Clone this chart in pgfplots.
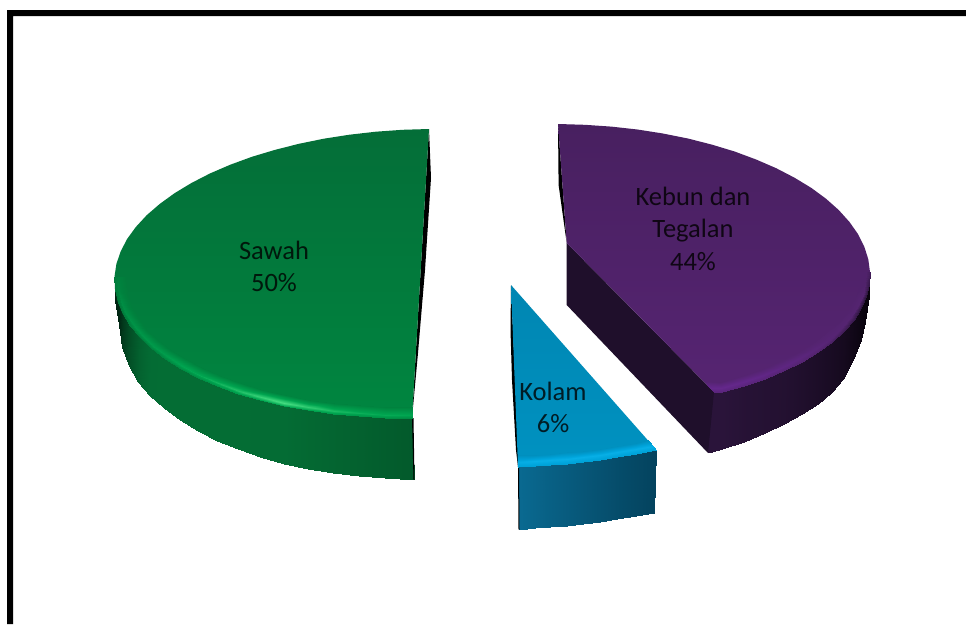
\documentclass[border=0pt]{standalone}
\usepackage{fontspec}
\setmainfont{Carlito}
\usepackage{pgfplots}
\pgfplotsset{compat=1.18}
% Colour ramps for the slices: 0 deep shadow, 1 wall, 2 top face, 3-4 rim highlight
\pgfplotsset{
  colormap={greenramp}{rgb255=(1,36,18) rgb255=(4,108,52) rgb255=(0,130,62) rgb255=(0,165,80) rgb255=(70,222,130)},
  colormap={purpleramp}{rgb255=(8,3,12) rgb255=(42,20,58) rgb255=(84,36,112) rgb255=(97,38,135) rgb255=(110,45,150)},
  colormap={blueramp}{rgb255=(3,60,85) rgb255=(10,108,148) rgb255=(0,143,190) rgb255=(0,165,220) rgb255=(20,190,245)},
}
\newcommand{\lbl}[3]{\node[anchor=base,font=\fontsize{26.5}{30}\selectfont,text=black,text opacity=0.8,inner sep=0pt] at (axis cs:#1,#2) {#3};}
\begin{document}
\begin{tikzpicture}
\useasboundingbox (0,0) rectangle (966pt,624pt);
\begin{axis}[
  at={(0,0)}, anchor=south west,
  scale only axis, width=966pt, height=624pt,
  xmin=0, xmax=966, ymin=0, ymax=624, y dir=reverse,
  hide axis, point meta min=0, point meta max=4,
]
% Outer frame: left and top bars
\addplot[draw=none, fill=black] coordinates {(7,10) (966,10) (966,16) (13,16) (13,624) (7,624)} -- cycle;

% ---- Sawah 50% ----
\addplot[surf, shader=interp, point meta=explicit, mesh/rows=2, mesh/cols=18, colormap name=greenramp] table[x=x,y=y,meta=m] {
x y m
115 289.1 0
117.7 301.6 0.05
122.7 313.8 0.3
130.1 325.7 0.6
139.6 337.3 0.85
151.3 348.4 1.0
164.9 358.9 1.05
180.6 368.7 1.05
198.1 377.8 1.05
217.3 386.1 1.05
238 393.6 1.05
260.1 400.1 1.0
283.5 405.8 1.0
307.8 410.3 0.95
333.1 413.9 0.9
359 416.3 0.85
385.3 417.7 0.8
412 418 0.75
115.5 300 0
118.5 325 0.05
122.5 347 0.3
129 366 0.6
138 382 0.85
150 396 1.0
164 408 1.05
180 420 1.05
198 431 1.05
217 441 1.05
238 449 1.05
260 457 1.0
284 464 1.0
308 469 0.95
333 473 0.9
359 476 0.85
385 478 0.8
414 479.5 0.75
};
\addplot[draw=none, fill=black] coordinates {(429,129) (431,178) (425,270) (418,353) (412,418)} -- cycle;
\addplot[draw=none, fill=black] coordinates {(412,418) (413.5,479.5) (414.5,479.5) (413.5,418)} -- cycle;
\addplot[draw=none, top color={rgb,255:red,4;green,110;blue,56}, bottom color={rgb,255:red,0;green,134;blue,64}] coordinates {
(429,129) (402.3,129.8) (375.8,131.7) (349.5,134.7) (323.8,138.7) (298.9,143.8) (274.9,149.9) (251.9,156.8) (230.3,164.7) (210.1,173.4) (191.6,182.9) (174.7,193.1) (159.8,203.9) (146.8,215.1) (135.9,226.9) (127.1,239) (120.7,251.4) (116.4,263.9) (114.5,276.5)
(115,289.1) (117.7,301.6) (122.7,313.8) (130.1,325.7) (139.6,337.3) (151.3,348.4) (164.9,358.9) (180.6,368.7) (198.1,377.8) (217.3,386.1) (238,393.6) (260.1,400.1) (283.5,405.8) (307.8,410.3) (333.1,413.9) (359,416.3) (385.3,417.7) (412,418)
} -- cycle;
% Rim highlight of the Sawah slice
\addplot[surf, shader=interp, point meta=explicit, mesh/rows=3, mesh/cols=19, colormap name=greenramp] table[x=x,y=y,meta=m] {
x y m
125.5 276.5 1.75
125.8 287.2 1.75
128 297.8 1.8
132.3 308.4 1.8
138.8 319 1.85
147.4 329.6 1.85
158.2 339.9 1.9
171.1 349.8 1.9
186 359.1 1.95
202.8 367.9 1.95
221.4 375.9 2
241.4 383.2 2
263 389.5 2
285.8 395 2
309.7 399.5 2
334.4 403 2
359.9 405.3 2
385.7 406.7 2
412.6 407 2
117.5 276.5 2.0
118 288.6 2.1
120.5 300.5 2.3
125.3 312.3 2.4
132.5 323.9 2.5
141.7 335.2 2.6
153.2 346.1 2.7
166.6 356.4 2.8
182.1 366.1 3.0
199.4 375.1 3.1
218.4 383.3 3.3
238.9 390.7 3.5
260.9 397.2 3.8
284.1 402.9 4
308.3 407.3 3.7
333.5 410.9 3.4
359.2 413.3 3.2
385.4 414.7 3.1
412.2 415 3
114.5 276.5 1.7
115 289.1 1.7
117.7 301.6 1.6
122.7 313.8 1.7
130.1 325.7 1.8
139.6 337.3 1.9
151.3 348.4 2
164.9 358.9 2.1
180.6 368.7 2.2
198.1 377.8 2.3
217.3 386.1 2.5
238 393.6 2.7
260.1 400.1 2.9
283.5 405.8 3
307.8 410.3 2.9
333.1 413.9 2.7
359 416.3 2.5
385.3 417.7 2.4
412 418 2.3
};

% ---- Kebun dan Tegalan 44% ----
\addplot[draw=none, fill=black] coordinates {(558,124) (558.6,185) (566.7,243) (562.4,184)} -- cycle;
\addplot[surf, shader=interp, point meta=explicit, mesh/rows=2, mesh/cols=13, colormap name=purpleramp] table[x=x,y=y,meta=m] {
x y m
869.3 284.2 0.02
866.3 296.3 0.05
861.2 308.1 0.12
853.6 319.8 0.25
843.8 331 0.4
832 341.7 0.5
818.1 351.9 0.6
802.3 361.5 0.7
784.6 370.4 0.8
765.3 378.5 0.85
744.4 385.9 0.9
722.2 391.5 1
710 391 1
869 296 0.02
865 322 0.05
861 340 0.12
853 360 0.25
843 379 0.4
832 392 0.5
818 404 0.6
802 414 0.7
784 424 0.8
765 433 0.85
744 442 0.9
722 449 1
707.5 452.6 1
};
\addplot[draw=none, fill={rgb,255:red,31;green,15;blue,43}] coordinates {(566.7,243) (714,392) (708,453) (566.7,305)} -- cycle;
\addplot[draw=none, top color={rgb,255:red,72;green,32;blue,96}, bottom color={rgb,255:red,86;green,36;blue,114}] coordinates {
(558,124) (584.7,124.8) (611.2,126.6) (637.4,129.5) (663,133.5) (687.9,138.5) (711.8,144.6) (734.6,151.5) (756.1,159.5) (776.2,168.2) (794.5,177.7) (811.3,187.9) (826,198.7) (838.8,210.1) (849.5,222) (858,234.1) (864.3,246.7) (868.3,259.3) (870,272)
(869.3,284.2) (866.3,296.3) (861.2,308.1) (853.6,319.8) (843.8,331) (832,341.7) (818.1,351.9) (802.3,361.5) (784.6,370.4) (765.3,378.5) (744.4,385.9) (722.2,391.5) (714,392) (566.7,243)
} -- cycle;
% Rim highlight of the Kebun dan Tegalan slice
\addplot[surf, shader=interp, point meta=explicit, mesh/rows=3, mesh/cols=14, colormap name=purpleramp] table[x=x,y=y,meta=m] {
x y m
860 272 1.9
859.5 282.3 1.9
857 292.7 1.9
852.6 303.1 1.95
845.8 313.6 1.95
836.8 323.9 1.95
825.8 333.9 2
812.6 343.5 2
797.5 352.7 2
780.4 361.3 2
761.7 369.2 2
741.4 376.4 2
719.7 382.3 2
704 380.5 2
866 272 1.9
865.4 283.4 1.9
862.5 294.8 2
857.7 306.1 2
850.5 317.3 2.05
841 328.2 2.1
829.5 338.6 2.2
815.9 348.5 2.4
800.4 358 2.6
782.9 366.8 2.8
763.8 374.8 3
743.2 382.1 3.2
721.2 387.6 3.3
710 388 3.3
870 272 1.6
869.3 284.2 1.3
866.3 296.3 1.1
861.2 308.1 1.1
853.6 319.8 1.3
843.8 331 1.5
832 341.7 1.7
818.1 351.9 1.9
802.3 361.5 2
784.6 370.4 2.1
765.3 378.5 2.3
744.4 385.9 2.4
722.2 391.5 2.5
714 392 2.5
};

% ---- Kolam 6% ----
\addplot[surf, shader=interp, point meta=explicit, mesh/rows=2, mesh/cols=9, colormap name=blueramp] table[x=x,y=y,meta=m] {
x y m
518 467 0.95
535 466.3 0.85
550 465 0.75
567 463.6 0.65
583 462 0.55
600 459.8 0.45
617 457 0.35
636 453.5 0.25
656 449.5 0.15
518.5 529.5 0.95
535 528.4 0.85
550 527 0.75
567 525.6 0.65
583 524 0.55
600 521.6 0.45
617 519 0.35
636 516 0.25
653.5 512.7 0.15
};
\addplot[draw=none, fill=black] coordinates {(511,285) (510.5,330) (512,380) (516,450) (518,467) (518.5,529.5) (519.5,529.5) (519,467)} -- cycle;
\addplot[draw=none, top color={rgb,255:red,0;green,134;blue,178}, bottom color={rgb,255:red,0;green,146;blue,193}] coordinates {
(511,285) (656,449.5) (636,453.5) (617,457) (600,459.8) (583,462) (567,463.6) (550,465) (535,466.3) (518,467)
} -- cycle;
% Rim highlight of the Kolam slice
\addplot[surf, shader=interp, point meta=explicit, mesh/rows=3, mesh/cols=9, colormap name=blueramp] table[x=x,y=y,meta=m] {
x y m
517.5 455 2
535 454.5 2
550 453.6 2
567 452.4 2
583 450.8 2
600 448.5 2
617 445.8 2
636 442.5 2
648 440 2
517.9 462 3.3
535 461.3 3.4
550 460 3.4
567 458.6 3.4
583 457 3.4
600 454.8 3.4
617 452 3.4
636 448.5 3.4
652.5 445.5 3.4
518 467 2.8
535 466.3 2.8
550 465 2.8
567 463.6 2.8
583 462 2.8
600 459.8 2.8
617 457 2.8
636 453.5 2.8
656 449.5 2.8
};

% Slice labels
\lbl{274}{259}{Sawah}
\lbl{274}{291.5}{50\%}
\lbl{693}{205}{Kebun dan}
\lbl{693}{237}{Tegalan}
\lbl{693}{270}{44\%}
\lbl{553}{400}{Kolam}
\lbl{553}{432}{6\%}
\end{axis}
\end{tikzpicture}
\end{document}
